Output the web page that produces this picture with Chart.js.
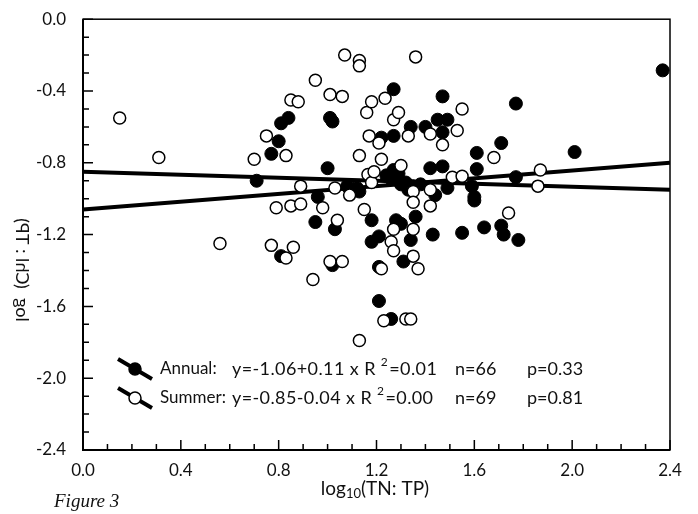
<!DOCTYPE html>
<html>
<head>
<meta charset="utf-8">
<script src="https://cdn.jsdelivr.net/npm/chart.js@4.4.1/dist/chart.umd.min.js"></script>
<style>
  html,body{margin:0;padding:0;background:#fff;}
  #wrap{width:698px;height:514px;position:relative;}
</style>
</head>
<body>
<div id="wrap"><canvas id="chart" width="698" height="514"></canvas></div>
<script>
// annual (filled circles)
const annualX=[0.71,0.77,0.80,0.81,0.84,0.81,0.95,0.96,1.00,1.01,1.02,1.02,1.03,1.08,1.12,1.13,1.18,1.18,1.21,1.21,
  1.21,1.22,1.24,1.27,1.27,1.27,1.26,1.28,1.30,1.30,1.31,1.32,1.34,1.34,1.35,1.36,1.40,1.42,1.44,1.43,
  1.45,1.47,1.47,1.47,1.49,1.49,1.55,1.59,1.60,1.60,1.61,1.61,1.64,1.71,1.71,1.72,1.77,1.77,1.78,2.01,
  2.37,1.26,1.29,1.38,1.33];
const annualY=[-0.90,-0.75,-0.68,-0.58,-0.55,-1.32,-1.13,-0.99,-0.83,-0.55,-0.57,-1.37,-1.17,-0.93,-0.94,-0.96,-1.12,-1.24,-1.21,-1.38,
  -1.57,-0.66,-0.87,-0.84,-0.39,-0.65,-1.67,-1.12,-0.92,-1.14,-1.35,-0.91,-0.60,-1.23,-0.93,-1.10,-0.60,-0.83,-0.98,-1.20,
  -0.56,-0.43,-0.63,-0.82,-0.56,-0.94,-1.19,-0.93,-0.99,-1.01,-0.745,-0.835,-1.16,-0.69,-1.15,-1.20,-0.47,-0.88,-1.23,-0.74,
  -0.285,-0.89,-0.86,-0.92,-0.95];
// summer (open circles)
const summerX=[0.15,0.31,0.56,0.70,0.75,0.77,0.79,0.83,0.83,0.85,0.85,0.86,0.88,0.89,0.89,0.94,0.95,0.98,1.01,1.01,
  1.03,1.04,1.06,1.06,1.07,1.09,1.13,1.13,1.13,1.13,1.15,1.16,1.165,1.17,1.18,1.18,1.19,1.21,1.22,1.22,
  1.23,1.235,1.26,1.27,1.27,1.27,1.29,1.30,1.33,1.32,1.34,1.35,1.35,1.35,1.35,1.36,1.37,1.42,1.42,1.42,
  1.47,1.51,1.53,1.55,1.55,1.68,1.74,1.87,1.86];
const summerY=[-0.55,-0.77,-1.25,-0.78,-0.65,-1.26,-1.05,-0.76,-1.33,-0.45,-1.04,-1.27,-0.46,-0.93,-1.03,-1.45,-0.34,-1.05,-0.42,-1.35,
  -0.94,-1.12,-0.43,-1.35,-0.20,-0.98,-0.23,-0.26,-0.76,-1.79,-1.06,-0.52,-0.865,-0.65,-0.46,-0.91,-0.85,-0.69,-0.78,-1.39,
  -1.68,-0.44,-1.24,-0.56,-1.17,-1.29,-0.52,-0.815,-0.65,-1.67,-1.67,-0.96,-1.02,-1.17,-1.32,-0.21,-1.39,-0.64,-0.95,-1.04,
  -0.70,-0.88,-0.62,-0.50,-0.875,-0.77,-1.08,-0.84,-0.93];
// regression lines, end points
const fitX=[0,2.4];
const annualFitY=[-1.06,-0.80];
const summerFitY=[-0.85,-0.95];
const xTicks=[0,0.4,0.8,1.2,1.6,2.0,2.4];
const yTicks=[-2.4,-2.0,-1.6,-1.2,-0.8,-0.4,0];
const legendRows=[
  {name:'Annual:',eq:'y=-1.06+0.11 x R ',r2:'=0.01',n:'n=66',p:'p=0.33',filled:true},
  {name:'Summer:',eq:'y=-0.85-0.04 x R ',r2:'=0.00',n:'n=69',p:'p=0.81',filled:false}
];

const pts=(xs,ys)=>xs.map((x,i)=>({x:x,y:ys[i]}));
const FONT='Lato, "Open Sans", sans-serif';

const decor={
  id:'decor',
  afterDatasetsDraw(chart){
    const ctx=chart.ctx, a=chart.chartArea, xs=chart.scales.x, ys=chart.scales.y;
    ctx.save();
    ctx.strokeStyle='#000';
    // frame
    ctx.lineWidth=1.5;
    ctx.strokeRect(a.left,a.top,a.right-a.left,a.bottom-a.top);
    ctx.lineWidth=2;
    ctx.beginPath();
    ctx.moveTo(a.left,a.top);ctx.lineTo(a.left,a.bottom);ctx.lineTo(a.right,a.bottom);
    ctx.stroke();
    // inward ticks, major every 0.4, minor every 0.1
    ctx.lineWidth=1.5;
    ctx.beginPath();
    for(let i=0;i<=24;i++){
      const px=xs.getPixelForValue(i/10), len=(i%4===0)?10:6;
      ctx.moveTo(px,a.bottom);ctx.lineTo(px,a.bottom-len);
    }
    for(let i=0;i<=24;i++){
      const py=ys.getPixelForValue(-i/10), len=(i%4===0)?10:6;
      ctx.moveTo(a.left,py);ctx.lineTo(a.left+len,py);
    }
    ctx.stroke();
    ctx.restore();
  },
  afterDraw(chart){
    const ctx=chart.ctx;
    ctx.save();
    ctx.fillStyle='#111';ctx.strokeStyle='#000';
    // legend
    legendRows.forEach((r,i)=>{
      const cy=369+i*29;
      ctx.lineWidth=4;
      ctx.beginPath();ctx.moveTo(118,cy-10);ctx.lineTo(152,cy+10);ctx.stroke();
      ctx.beginPath();ctx.arc(135,cy,6,0,Math.PI*2);
      ctx.fillStyle=r.filled?'#000':'#fff';ctx.fill();
      ctx.lineWidth=1.5;ctx.stroke();
      ctx.fillStyle='#111';
      ctx.textBaseline='middle';ctx.textAlign='left';
      ctx.font='17px '+FONT;
      ctx.fillText(r.name,160,cy);
      ctx.font='18px '+FONT;
      ctx.letterSpacing='0.4px';
      let x=232;
      ctx.fillText(r.eq,x,cy);x+=ctx.measureText(r.eq).width;
      ctx.font='12px '+FONT;ctx.fillText('2',x,cy-7);x+=ctx.measureText('2').width+1;
      ctx.font='18px '+FONT;ctx.fillText(r.r2,x,cy);
      ctx.letterSpacing='0px';
      ctx.fillText(r.n,455,cy);
      ctx.fillText(r.p,527,cy);
    });
    // x title with subscript
    const parts=[['log','19px',0],['10','13px',5],['(TN: TP)','19px',0]];
    let w=0;
    parts.forEach(p=>{ctx.font=p[1]+' '+FONT;w+=ctx.measureText(p[0]).width;});
    let x=375-w/2;
    parts.forEach(p=>{ctx.font=p[1]+' '+FONT;ctx.fillText(p[0],x,489+p[2]);x+=ctx.measureText(p[0]).width;});
    // y title (mirrored, as in the original)
    ctx.save();
    ctx.translate(22,270);ctx.rotate(-Math.PI/2);ctx.scale(1,-1);
    ctx.font='18px '+FONT;ctx.textAlign='center';ctx.textBaseline='middle';
    ctx.fillText('log  (Chl : TP)',0,0);
    ctx.restore();
    // figure label
    ctx.font='italic 19px "Liberation Serif", serif';ctx.textAlign='left';
    ctx.fillText('Figure 3',54,502);
    ctx.restore();
  }
};

new Chart(document.getElementById('chart'),{
  type:'scatter',
  data:{datasets:[
    {type:'line',data:pts(fitX,annualFitY),borderColor:'#000',borderWidth:4,pointRadius:0,order:3},
    {type:'line',data:pts(fitX,summerFitY),borderColor:'#000',borderWidth:4,pointRadius:0,order:3},
    {label:'Annual',data:pts(annualX,annualY),pointRadius:6.5,pointBorderWidth:1,
      backgroundColor:'#000',borderColor:'#000',order:2},
    {label:'Summer',data:pts(summerX,summerY),pointRadius:6,pointBorderWidth:1.5,
      backgroundColor:'#fff',borderColor:'#000',order:1}
  ]},
  options:{
    responsive:false,animation:false,events:[],
    layout:{padding:{top:15,right:28,left:0,bottom:0}},
    plugins:{legend:{display:false},tooltip:{enabled:false}},
    scales:{
      x:{type:'linear',min:0,max:2.4,
        afterBuildTicks:s=>{s.ticks=xTicks.map(v=>({value:v}));},
        afterFit:s=>{s.height=64;},
        grid:{display:false},border:{display:false},
        ticks:{padding:2,color:'#111',font:{family:FONT,size:17},callback:v=>v.toFixed(1)}},
      y:{type:'linear',min:-2.4,max:0,
        afterBuildTicks:s=>{s.ticks=yTicks.map(v=>({value:v}));},
        afterFit:s=>{s.width=83;},
        grid:{display:false},border:{display:false},
        ticks:{padding:9,color:'#111',font:{family:FONT,size:17},callback:v=>v.toFixed(1)}}
    }
  },
  plugins:[decor]
});
</script>
</body>
</html>
